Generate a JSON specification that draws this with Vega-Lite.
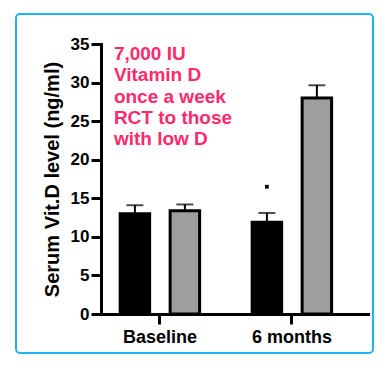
{
  "$schema": "https://vega.github.io/schema/vega-lite/v6.json",
  "autosize": {"type": "none"},
  "padding": {"left": 16, "top": 14, "right": 17, "bottom": 17},
  "width": 357,
  "height": 339,
  "background": "white",
  "config": {
    "view": {"stroke": "#1FB3F1", "strokeWidth": 2, "cornerRadius": 4},
    "font": "Liberation Sans"
  },
  "datasets": {
    "bars": [
      {"time": "Baseline", "series": "Placebo", "value": 13.0, "upper": 14.1},
      {"time": "Baseline", "series": "Vitamin D", "value": 13.4, "upper": 14.2},
      {"time": "6 months", "series": "Placebo", "value": 11.9, "upper": 13.1},
      {"time": "6 months", "series": "Vitamin D", "value": 28.0, "upper": 29.65}
    ],
    "marks": [
      {"time": "6 months", "series": "Placebo", "value": 16.5}
    ],
    "note": [
      {"time": "Baseline", "y": 32.9, "label": "7,000 IU\nVitamin D\nonce a week\nRCT to those\nwith low D"}
    ]
  },
  "layer": [
    {
      "data": {"name": "bars"},
      "mark": {"type": "rule", "strokeWidth": 2, "color": "black"},
      "encoding": {
        "x": {"field": "time", "type": "nominal", "sort": ["Baseline", "6 months"],
          "scale": {"range": [85, 352], "paddingInner": 0.398, "paddingOuter": 0.2104, "align": 0.345},
          "axis": {"title": null, "labelAngle": 0, "offset": -39, "domainColor": "black", "domainWidth": 3, "domainCap": "square",
            "tickColor": "black", "tickWidth": 3, "tickSize": 10, "labelFontSize": 18, "labelFontWeight": "bold", "labelColor": "black", "labelPadding": 4, "grid": false}},
        "xOffset": {"field": "series", "type": "nominal", "sort": ["Placebo", "Vitamin D"], "scale": {"paddingInner": 0.41, "paddingOuter": 0}},
        "y": {"field": "value", "type": "quantitative",
          "scale": {"domain": [0, 35], "range": [300, 30], "nice": false, "zero": true},
          "axis": {"title": "Serum Vit.D level (ng/ml)", "values": [0, 5, 10, 15, 20, 25, 30, 35], "offset": -85, "grid": false,
            "domainColor": "black", "domainWidth": 3, "domainCap": "square", "tickColor": "black", "tickWidth": 3, "tickSize": 10,
            "labelFontSize": 17, "labelFontWeight": "bold", "labelColor": "black", "labelPadding": 2,
            "titleFontSize": 20, "titleFontWeight": "bold", "titleColor": "black", "titlePadding": 8}},
        "y2": {"field": "upper"}
      }
    },
    {
      "data": {"name": "bars"},
      "mark": {"type": "bar", "stroke": "black", "strokeWidth": 3},
      "encoding": {
        "x": {"field": "time", "type": "nominal", "sort": ["Baseline", "6 months"]},
        "xOffset": {"field": "series", "type": "nominal", "sort": ["Placebo", "Vitamin D"]},
        "y": {"field": "value", "type": "quantitative"},
        "color": {"field": "series", "type": "nominal", "scale": {"domain": ["Placebo", "Vitamin D"], "range": ["#000000", "#9E9E9E"]}, "legend": null}
      }
    },
    {
      "data": {"name": "bars"},
      "mark": {"type": "tick", "orient": "horizontal", "size": 17, "thickness": 2, "color": "black"},
      "encoding": {
        "x": {"field": "time", "type": "nominal", "sort": ["Baseline", "6 months"]},
        "xOffset": {"field": "series", "type": "nominal", "sort": ["Placebo", "Vitamin D"]},
        "y": {"field": "upper", "type": "quantitative"}
      }
    },
    {
      "data": {"name": "marks"},
      "mark": {"type": "point", "shape": "square", "size": 14, "filled": true, "color": "black", "opacity": 1},
      "encoding": {
        "x": {"field": "time", "type": "nominal", "sort": ["Baseline", "6 months"]},
        "xOffset": {"field": "series", "type": "nominal", "sort": ["Placebo", "Vitamin D"]},
        "y": {"field": "value", "type": "quantitative"}
      }
    },
    {
      "data": {"name": "note"},
      "mark": {"type": "text", "align": "left", "baseline": "alphabetic", "dx": -46, "fontSize": 19, "fontWeight": "bold", "color": "#FF2A6D", "lineBreak": "\n", "lineHeight": 21.3},
      "encoding": {
        "x": {"field": "time", "type": "nominal", "sort": ["Baseline", "6 months"]},
        "y": {"field": "y", "type": "quantitative"},
        "text": {"field": "label"}
      }
    }
  ]
}
